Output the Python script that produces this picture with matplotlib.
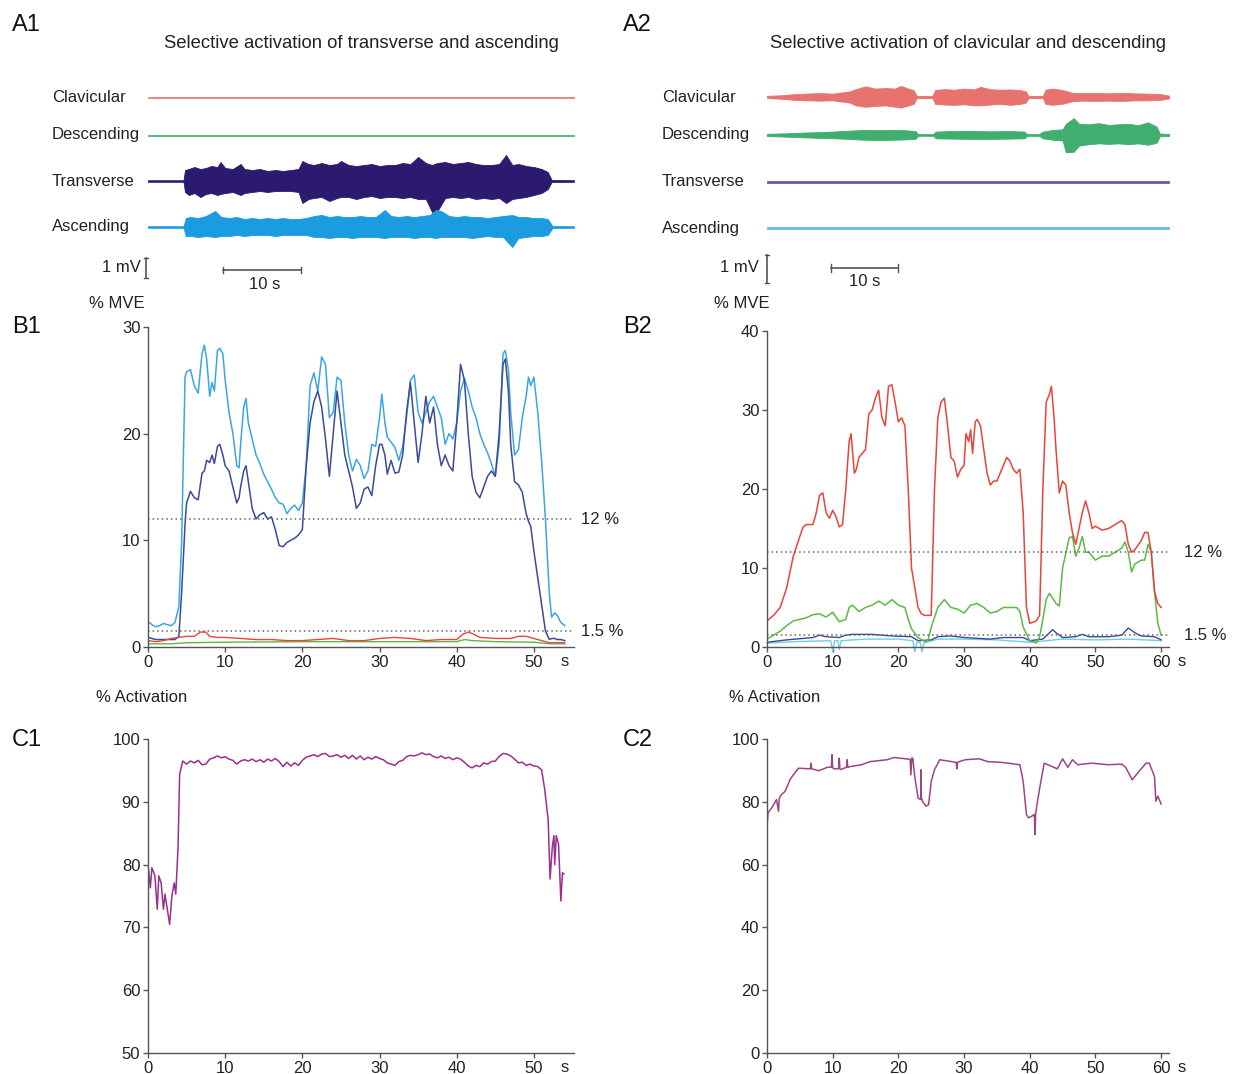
import numpy as np
import matplotlib
matplotlib.use("Agg")
import matplotlib.pyplot as plt
from matplotlib import transforms

plt.rcParams['font.family'] = ['Liberation Sans', 'DejaVu Sans']

W, H = 1233, 1074

# ---------------- A1 : raw EMG envelopes (mV, half amplitude above / below baseline)
a1_tra_t = [0, 4.6, 4.8, 5.3, 6.0, 6.8, 7.5, 8.2, 9.0, 9.4, 10.0, 11.0, 12.0, 12.5, 13.5, 14.5,
            15.5, 16.5, 17.5, 18.5, 19.5, 20.0, 20.8, 21.5, 22.5, 23.5, 24.5, 25.0, 26.0, 27.0,
            28.0, 29.0, 30.0, 31.0, 32.0, 33.0, 34.0, 35.0, 36.0, 36.8, 37.5, 38.5, 39.5, 40.5,
            41.5, 42.5, 43.5, 44.5, 45.5, 46.4, 47.2, 48.0, 49.0, 50.0, 51.0, 51.8, 52.3, 55.2]
a1_tra_up = [0.04, 0.04, 0.55, 0.6, 0.7, 0.6, 0.65, 0.75, 0.7, 0.95, 0.65, 0.6, 0.85, 0.6, 0.55, 0.6,
             0.5, 0.55, 0.5, 0.55, 0.6, 1.0, 0.85, 0.8, 0.9, 0.8, 0.85, 1.0, 0.8, 0.75,
             0.8, 0.85, 0.75, 0.8, 0.8, 0.9, 0.85, 1.2, 0.9, 0.8, 0.9, 0.95, 0.85, 0.9,
             0.95, 0.85, 0.8, 0.8, 0.85, 1.3, 0.8, 0.85, 0.75, 0.7, 0.6, 0.45, 0.05, 0.04]
a1_tra_lo = [0.04, 0.04, 0.55, 0.7, 0.6, 0.8, 0.65, 0.6, 0.7, 0.65, 0.6, 0.55, 0.7, 0.6, 0.55, 0.5,
             0.55, 0.5, 0.5, 0.5, 0.55, 1.1, 0.9, 0.85, 0.8, 1.0, 0.85, 0.8, 0.8, 0.9,
             0.8, 0.75, 0.85, 0.8, 0.8, 0.85, 0.8, 0.9, 0.9, 1.55, 1.5, 0.85, 0.8, 0.85,
             0.8, 0.9, 0.85, 0.9, 0.85, 1.1, 0.9, 0.85, 0.8, 0.7, 0.6, 0.4, 0.05, 0.04]

a1_asc_t = [0, 4.6, 4.9, 5.5, 6.5, 7.5, 8.7, 9.5, 10.5, 11.5, 12.5, 13.5, 14.5, 15.5, 16.5, 17.5,
            18.5, 19.5, 20.5, 21.5, 22.5, 23.5, 24.5, 25.5, 26.5, 27.5, 28.5, 29.5, 30.7, 31.5,
            32.5, 33.5, 34.5, 35.5, 36.5, 37.3, 38.0, 39.0, 40.0, 41.0, 42.0, 43.0, 44.0, 45.0,
            46.0, 47.2, 48.0, 49.0, 50.0, 51.0, 51.8, 52.4, 55.2]
a1_asc_up = [0.04, 0.04, 0.45, 0.5, 0.45, 0.55, 0.8, 0.5, 0.45, 0.5, 0.4, 0.45, 0.4, 0.45, 0.4, 0.45,
             0.4, 0.4, 0.45, 0.55, 0.6, 0.5, 0.55, 0.5, 0.5, 0.55, 0.5, 0.5, 0.85, 0.55,
             0.5, 0.55, 0.5, 0.55, 0.6, 0.85, 0.8, 0.55, 0.5, 0.55, 0.5, 0.5, 0.45, 0.5,
             0.55, 0.6, 0.5, 0.5, 0.45, 0.45, 0.4, 0.05, 0.04]
a1_asc_lo = [0.04, 0.04, 0.45, 0.45, 0.5, 0.45, 0.5, 0.45, 0.45, 0.4, 0.45, 0.4, 0.4, 0.4, 0.45, 0.4,
             0.4, 0.4, 0.4, 0.5, 0.5, 0.55, 0.5, 0.5, 0.55, 0.5, 0.5, 0.5, 0.55, 0.5,
             0.5, 0.5, 0.55, 0.5, 0.5, 0.55, 0.5, 0.5, 0.5, 0.5, 0.55, 0.5, 0.45, 0.5,
             0.5, 1.0, 0.55, 0.5, 0.45, 0.45, 0.4, 0.05, 0.04]

a1_quiet_t = [0, 55.2]
a1_quiet_amp = [0.025, 0.025]

# ---------------- A2
a2_cla_t = [0, 2, 4.1, 6, 8, 10, 12.6, 13.5, 15, 16.5, 18, 19.5, 20.4, 21.5, 22.3, 22.8, 25.2, 25.6,
            27, 28.5, 30, 31.5, 32.5, 34, 35.5, 37, 38.5, 39.4, 39.8, 42.0, 42.4, 43.5, 45, 46.5,
            48, 50, 52, 54, 56, 58, 60, 61.2]
a2_cla_up = [0.04, 0.06, 0.1, 0.12, 0.14, 0.12, 0.2, 0.28, 0.38, 0.3, 0.32, 0.3, 0.4, 0.3, 0.25,
             0.04, 0.04, 0.25, 0.28, 0.26, 0.3, 0.27, 0.36, 0.28, 0.26, 0.27, 0.25, 0.2, 0.04,
             0.04, 0.26, 0.3, 0.25, 0.15, 0.14, 0.15, 0.13, 0.15, 0.13, 0.12, 0.1, 0.05]
a2_cla_lo = [0.04, 0.06, 0.1, 0.12, 0.13, 0.12, 0.2, 0.3, 0.35, 0.32, 0.3, 0.35, 0.38, 0.3, 0.25,
             0.04, 0.04, 0.25, 0.27, 0.28, 0.26, 0.3, 0.3, 0.27, 0.25, 0.28, 0.25, 0.2, 0.04,
             0.04, 0.25, 0.28, 0.24, 0.15, 0.13, 0.14, 0.13, 0.14, 0.12, 0.12, 0.1, 0.05]

a2_des_t = [0, 3, 6, 9, 11.4, 13, 15, 17, 19, 21, 22.6, 23, 25.3, 25.7, 28, 31, 34, 37, 39.2, 39.6,
            41.4, 42, 43.5, 45.0, 45.5, 46.7, 47.5, 49, 50.5, 52, 53.5, 55, 56.5, 58, 59.3, 59.8, 61.2]
a2_des_up = [0.04, 0.06, 0.09, 0.11, 0.14, 0.16, 0.18, 0.17, 0.18, 0.17, 0.14, 0.03, 0.03, 0.12,
             0.14, 0.15, 0.13, 0.14, 0.12, 0.03, 0.03, 0.12, 0.18, 0.2, 0.4, 0.6, 0.4, 0.38,
             0.42, 0.36, 0.38, 0.4, 0.35, 0.45, 0.3, 0.05, 0.04]
a2_des_lo = [0.04, 0.06, 0.09, 0.11, 0.13, 0.15, 0.17, 0.18, 0.17, 0.16, 0.14, 0.03, 0.03, 0.12,
             0.13, 0.14, 0.14, 0.13, 0.12, 0.03, 0.03, 0.12, 0.17, 0.2, 0.62, 0.6, 0.38, 0.33,
             0.3, 0.32, 0.3, 0.33, 0.3, 0.35, 0.28, 0.05, 0.04]

a2_quiet_t = [0, 61.2]
a2_quiet_amp = [0.03, 0.03]

# ---------------- B1 : % MVE
b1_t = [0, 0.5, 1, 1.5, 2, 2.5, 3, 3.5, 4, 4.35, 4.8, 5, 5.5, 6, 6.5, 7, 7.3, 7.6, 8, 8.3,
        8.6, 9, 9.3, 9.7, 10, 10.5, 11, 11.5, 11.8, 12, 12.4, 12.7, 13, 13.5, 14, 14.5, 15, 15.5,
        16, 16.5, 17, 17.5, 18, 18.5, 19, 19.5, 20, 20.5, 21, 21.5, 22, 22.5, 23, 23.5, 24, 24.5,
        25, 25.5, 26, 26.5, 27, 27.5, 28, 28.5, 29, 29.5, 30, 30.3, 30.7, 31, 31.5, 32, 32.5, 33,
        33.5, 34, 34.5, 35, 35.5, 36, 36.5, 37, 37.5, 38, 38.5, 39, 39.5, 40, 40.5, 41, 41.5, 42,
        42.5, 43, 43.5, 44, 44.5, 45, 45.5, 46, 46.3, 46.7, 47, 47.5, 48, 48.5, 49, 49.3, 49.6, 50,
        50.5, 51, 51.5, 52, 52.3, 52.7, 53, 53.5, 54]
b1_ascending = [2.4, 2.1, 1.9, 2.0, 2.2, 2.1, 2.0, 2.3, 3.8, 9.7,
                25.3, 25.8, 26.0, 24.5, 23.8, 27.5, 28.3, 27.0, 23.5, 24.8,
                24.0, 27.8, 28.0, 27.5, 25.0, 22.0, 20.0, 17.0, 16.8, 19.0,
                22.5, 23.3, 21.0, 19.5, 18.0, 17.2, 16.2, 15.5, 14.8, 14.0,
                13.5, 13.4, 12.5, 13.0, 13.3, 12.8, 13.5, 17.0, 24.5, 25.7,
                24.0, 27.2, 26.5, 21.5, 22.0, 25.3, 25.0, 21.0, 18.0, 16.5,
                17.6, 17.0, 15.8, 16.5, 19.0, 18.8, 21.5, 23.7, 21.0, 19.7,
                19.2, 18.7, 17.5, 18.8, 21.5, 25.0, 25.5, 22.0, 21.0, 22.0,
                23.0, 23.5, 22.5, 21.5, 19.0, 20.0, 19.5, 21.0, 24.0, 25.2,
                24.0, 22.5, 21.5, 20.0, 19.0, 18.2, 17.2, 16.0, 19.0, 27.5,
                27.8, 26.0, 22.0, 18.0, 18.5, 21.5, 23.5, 25.3, 24.5, 25.3,
                22.0, 17.5, 12.0, 5.0, 2.8, 3.2, 3.0, 2.3, 2.0]
b1_transverse = [0.9, 0.8, 0.7, 0.7, 0.7, 0.7, 0.7, 0.7, 1.0, 5.0,
                 11.5, 13.5, 14.6, 14.0, 13.8, 16.3, 16.5, 17.5, 17.3, 18.0,
                 17.2, 18.8, 19.0, 18.0, 17.0, 16.5, 15.0, 13.5, 14.0, 15.0,
                 16.5, 17.0, 15.5, 13.0, 12.0, 12.4, 12.6, 12.0, 12.2, 11.0,
                 9.5, 9.4, 9.8, 10.0, 10.2, 10.5, 11.0, 17.0, 21.0, 23.0,
                 24.0, 22.5, 19.5, 16.0, 20.0, 24.0, 21.0, 18.0, 16.5, 15.0,
                 13.0, 13.5, 14.8, 15.0, 14.2, 17.0, 19.0, 19.0, 18.0, 16.2,
                 17.5, 16.3, 16.4, 18.0, 22.0, 24.8, 21.0, 17.3, 20.0, 23.5,
                 21.0, 22.5, 19.0, 17.0, 18.0, 17.0, 16.5, 21.0, 26.5, 25.0,
                 20.0, 16.0, 14.5, 14.0, 15.0, 16.0, 16.5, 16.0, 20.0, 26.5,
                 27.0, 24.0, 19.0, 15.5, 15.2, 14.5, 12.5, 11.8, 11.3, 9.0,
                 6.5, 4.0, 1.5, 0.7, 0.8, 0.8, 0.7, 0.7, 0.6]
b1_cla_t = [0, 1, 2, 3, 4, 5, 6, 6.8, 7.5, 8, 9, 10, 12, 14, 16, 18, 20, 22, 24, 26,
            28, 30, 32, 34, 36, 38, 40, 40.8, 41.5, 42.2, 43, 45, 47, 48, 49, 50, 51, 52, 53, 54]
b1_clavicular = [0.6, 0.5, 0.6, 0.8, 0.9, 1.0, 1.0, 1.4, 1.4, 1.0, 0.9, 0.9, 0.8, 0.7, 0.7, 0.6,
                 0.6, 0.7, 0.8, 0.6, 0.6, 0.8, 0.9, 0.8, 0.6, 0.7, 0.7, 1.2, 1.4, 1.2, 0.9, 0.8,
                 0.8, 1.0, 1.0, 0.8, 0.6, 0.4, 0.4, 0.4]
b1_des_t = [0, 3, 5, 10, 20, 30, 40, 41, 42, 45, 50, 52, 54]
b1_descending = [0.3, 0.3, 0.4, 0.45, 0.5, 0.5, 0.5, 0.7, 0.6, 0.5, 0.45, 0.3, 0.3]

# ---------------- B2
b2_cla_t = [0, 1, 2, 3, 4, 5, 5.5, 6, 7, 7.5, 8, 8.5, 9, 9.5, 10, 10.5, 11, 11.5, 12, 12.5,
            12.8, 13.3, 13.6, 14, 15, 15.5, 16, 16.5, 17, 17.5, 18, 18.5, 19, 19.5, 20, 20.5,
            21, 21.5, 22, 23, 23.5, 24, 25, 25.5, 26, 26.5, 27, 27.5, 28, 28.5, 29, 29.5, 30,
            30.3, 30.7, 31, 31.3, 31.7, 32, 32.5, 33, 33.5, 34, 34.5, 35, 36, 36.5, 37, 37.5,
            38, 38.5, 39, 39.5, 40, 41, 41.5, 42, 42.5, 43, 43.3, 43.7, 44, 44.5, 45, 45.5, 46,
            46.5, 47, 47.5, 48, 48.5, 49, 49.5, 50, 51, 52, 53, 54, 54.5, 55, 55.5, 56, 57,
            57.5, 58, 58.5, 59, 59.5, 60]
b2_clavicular = [3.3, 4, 5, 7.5, 11.5, 14, 15.2, 15.5, 15.5, 17, 19.2, 19.5, 17, 16.3, 17.3, 16.5,
                 15.2, 15.5, 20, 26, 27, 22, 22.5, 24, 25, 29.5, 30, 31.5, 32.5, 29, 28, 33, 33.2,
                 31, 28.5, 29, 28, 20, 10, 5, 4.2, 4, 4, 20, 29, 31, 31.5, 28, 24, 23.5, 21.5,
                 22.5, 23, 27, 26, 27.5, 24.5, 28.5, 28.8, 28, 25, 22, 20.5, 21, 21, 23, 24, 23.5,
                 22.5, 22, 22.5, 17, 5, 3, 3.3, 4, 20, 31, 32, 33, 29, 25, 19.5, 21, 20.5, 17,
                 14.5, 13, 15, 17, 18.5, 17, 15, 15.3, 14.8, 15, 15.5, 16, 15.5, 13, 12, 12.3,
                 13.5, 14.5, 14.5, 12, 7, 5.5, 5]
b2_des_t = [0, 1, 2, 3, 4, 5, 6, 7, 8, 9, 10, 11, 12, 12.5, 13, 14, 15, 16, 17, 18,
            19, 20, 21, 21.5, 22, 23, 24, 24.5, 25, 26, 27, 28, 29, 30, 31, 32, 33, 34, 35, 36,
            37, 38, 38.5, 39, 40, 41, 41.5, 42, 42.5, 43, 44, 44.5, 45, 46, 46.5, 47, 47.5, 48,
            48.5, 49, 50, 51, 52, 53, 54, 54.5, 55, 55.5, 56, 57, 57.5, 58, 58.5, 59, 59.5, 60]
b2_descending = [1, 1.5, 2, 2.7, 3.3, 3.5, 3.7, 4.1, 4.2, 3.8, 4.4, 3.2, 3.5, 5, 5.3, 4.5, 5,
                 5.3, 5.8, 5.3, 6, 5.3, 5, 3.5, 2.3, 1.2, 0.7, 0.8, 2.5, 5, 6, 5, 4.8, 4.3, 5.3,
                 5.5, 5, 4.3, 4.5, 5, 5, 5, 4.5, 2.5, 0.8, 0.5, 1.3, 3.5, 6, 6.8, 5.5, 5.2, 10,
                 13.8, 14, 11.5, 12.5, 14, 12, 12, 11, 11.5, 11.5, 12, 12.5, 13.3, 12, 9.5, 10.5,
                 11, 11, 13, 12, 7, 3, 1.5]
b2_tra_t = [0, 3, 7, 8, 9, 11, 12, 13, 16, 19, 22, 23, 25, 26, 28, 30, 34, 36, 39, 40,
            42, 43, 43.5, 44, 45, 47, 48, 49, 52, 54, 55, 56, 57, 59, 60]
b2_transverse = [0.6, 0.9, 1.2, 1.5, 1.3, 1.2, 1.5, 1.6, 1.6, 1.4, 1.3, 0.8, 0.9, 1.3, 1.4, 1.2,
                 1.0, 1.2, 1.2, 0.8, 1.0, 1.8, 2.2, 1.8, 1.2, 1.3, 1.6, 1.3, 1.3, 1.5, 2.4, 1.8,
                 1.4, 1.3, 0.9]
b2_asc_t = [0, 5, 9.7, 10, 10.3, 10.8, 11, 11.3, 15, 20, 22.2, 22.5, 22.8, 23.3, 23.6, 23.9,
            26, 30, 35, 40, 45, 50, 55, 60]
b2_ascending = [0.5, 0.7, 0.8, -0.5, 0.8, 0.8, -0.3, 0.8, 1.0, 1.0, 0.8, -0.6, 0.6, 0.6, -0.6,
                0.5, 1.0, 1.0, 0.9, 0.6, 1.0, 0.9, 1.0, 0.8]

# ---------------- C1 / C2 : % activation
c1_t = ([0, 0.3, 0.5, 0.9, 1.2, 1.4, 1.7, 2.0, 2.2, 2.5, 2.8, 3.1, 3.4, 3.6, 3.9, 4.1, 4.5]
        + list(np.arange(5, 51.1, 0.5))
        + [51.4, 51.85, 52.1, 52.4, 52.6, 52.7, 52.9, 53.2, 53.5, 53.7, 53.9])
c1_act = [80, 76.3, 79.5, 78.2, 72.9, 78.2, 77.1, 72.9, 75.3, 72.9, 70.5, 75, 77.1, 75.3, 83, 94.4, 96.5,
          96.0, 96.5, 96.2, 96.6, 95.9, 96.0, 96.8, 97.0, 97.3, 97.0,
          97.2, 96.8, 96.6, 96.0, 96.5, 96.7, 96.5, 96.8, 96.4, 96.7,
          96.3, 96.8, 96.5, 96.9, 96.4, 95.6, 96.3, 95.7, 96.2, 95.8,
          96.6, 97.1, 97.3, 97.5, 97.2, 97.6, 97.7, 97.2, 97.3, 97.5,
          97.1, 97.4, 96.9, 97.4, 96.8, 97.3, 96.7, 97.1, 96.8, 97.2,
          96.9, 96.7, 96.2, 96.0, 95.8, 96.4, 96.6, 97.2, 97.4, 97.3,
          97.5, 97.8, 97.5, 97.6, 97.2, 97.0, 97.3, 96.9, 97.1, 96.7,
          97.0, 96.8, 96.3, 95.7, 95.4, 95.8, 95.6, 96.2, 96.0, 96.4,
          96.5, 97.2, 97.7, 97.6, 97.3, 96.8, 96.2, 96.3, 95.8, 96.0,
          95.7, 95.6, 95.1,
          92, 87.2, 77.7, 83, 84.6, 80, 84.6, 83.2, 74.2, 78.7, 78.5]

c2_t = [0, 0.15, 0.7, 1.45, 1.75, 1.85, 2.2, 2.75, 3.5, 3.8, 4.8, 6.6, 6.7, 6.8, 7.9, 9.2, 9.8,
        9.9, 10.0, 10.3, 10.9, 11.0, 11.1, 11.3, 12.1, 12.2, 12.3, 12.6, 14.4, 15.7, 18.3, 19.3,
        21.1, 21.8, 21.9, 22.05, 22.2, 22.5, 23.0, 23.4, 23.45, 23.5, 23.6, 23.7, 24.2, 24.6,
        25.0, 25.5, 26.3, 28.1, 28.8, 28.9, 29.0, 30.2, 32.3, 33.6, 35.4, 36.7, 38.5, 39.0, 39.5,
        39.8, 40.3, 40.7, 40.8, 40.9, 41.1, 41.6, 42.2, 44.2, 45.0, 45.8, 46.5, 47.3, 49.4, 52.0,
        54.0, 54.6, 55.6, 56.4, 57.7, 58.2, 59.0, 59.2, 59.5, 60.0]
c2_act = [71.7, 76.5, 78, 80.7, 77, 81, 82.3, 83.3, 87, 88, 90.7, 90.5, 92.3, 90.5, 89.9, 91, 91,
          95, 90.8, 90.5, 90.5, 93.9, 90.5, 90.3, 91, 93.4, 91, 91.2, 91.8, 92.8, 93.4, 94.1,
          93.7, 93.5, 88.6, 94, 93.8, 88, 81.2, 80.7, 90.2, 81, 80.8, 80, 78.6, 79.1,
          86.5, 90.2, 93.4, 92.8, 92.5, 90.5, 92.6, 93.4, 93.7, 92.8, 92.6, 92.3, 91.8, 86.5, 76,
          74.9, 75.4, 76, 69.6, 76, 79.1, 85.4, 92.3, 90.5, 93.7, 91, 93.4, 91.8, 92.3, 91.8,
          92, 91, 87, 89.1, 92.3, 92.3, 88, 80.2, 81.8, 79.3]

channels = ["Clavicular", "Descending", "Transverse", "Ascending"]

# colours
RED, GREEN, NAVY, BLUE, CYAN = "#e8443a", "#5cb946", "#3c4a98", "#3aa6e2", "#6fcfdc"
RED_A, GREEN_A, NAVY_A, BLUE_A = "#e8736e", "#3fae6e", "#2b1a6e", "#1b9ce0"
GREY = "#555555"
FS = 12

fig = plt.figure(figsize=(W / 100, H / 100), dpi=100)


def add_ax(left, top, right, bottom):
    return fig.add_axes([left / W, 1 - bottom / H, (right - left) / W, (bottom - top) / H])


def ftext(x, y, s, **kw):
    kw.setdefault("fontsize", FS)
    kw.setdefault("color", "#222222")
    fig.text(x / W, 1 - y / H, s, **kw)


def style(ax, xmax, ylim, yticks, xticks):
    ax.set_xlim(0, xmax)
    ax.set_ylim(*ylim)
    for side in ("top", "right"):
        ax.spines[side].set_visible(False)
    for side in ("left", "bottom"):
        ax.spines[side].set_color(GREY)
        ax.spines[side].set_linewidth(1.0)
    ax.set_xticks(xticks)
    ax.set_yticks(yticks)
    ax.tick_params(direction="out", length=3.5, width=1, color=GREY,
                   labelsize=FS, labelcolor="#222222", pad=2)
    ax.patch.set_alpha(0)


def emg(ax, t, up, lo, base, color, lw=0.6):
    t = np.asarray(t)
    ax.fill_between(t, base + np.asarray(up), base - np.asarray(lo),
                    color=color, lw=lw, edgecolor=color)


# ---------------- A panels
axA1 = add_ax(148, 70, 574, 290)
axA1.set_xlim(0, 55.2)
axA1.set_ylim(-11, 0)
axA1.axis("off")
offs1 = [-1.35, -3.25, -5.55, -7.85]
emg(axA1, a1_quiet_t, a1_quiet_amp, a1_quiet_amp, offs1[0], RED_A, 0.5)
emg(axA1, a1_quiet_t, a1_quiet_amp, a1_quiet_amp, offs1[1], GREEN_A, 0.5)
emg(axA1, a1_tra_t, a1_tra_up, a1_tra_lo, offs1[2], NAVY_A)
emg(axA1, a1_asc_t, a1_asc_up, a1_asc_lo, offs1[3], BLUE_A)
# scale bars
axA1.plot([-0.26, -0.26], [-9.4, -10.4], color=GREY, lw=1.2, clip_on=False)
axA1.plot([-0.5, 0.0], [-9.4, -9.4], color=GREY, lw=1, clip_on=False)
axA1.plot([-0.5, 0.0], [-10.4, -10.4], color=GREY, lw=1, clip_on=False)
axA1.plot([9.7, 19.8], [-10.0, -10.0], color=GREY, lw=1.2)
axA1.plot([9.7, 9.7], [-9.85, -10.15], color=GREY, lw=1)
axA1.plot([19.8, 19.8], [-9.85, -10.15], color=GREY, lw=1)

axA2 = add_ax(767, 70, 1169, 290)
axA2.set_xlim(0, 61.2)
axA2.set_ylim(-220 / 28, 0)
axA2.axis("off")
offs2 = [-0.964, -2.32, -4.0, -5.64]
emg(axA2, a2_cla_t, a2_cla_up, a2_cla_lo, offs2[0], RED_A)
emg(axA2, a2_des_t, a2_des_up, a2_des_lo, offs2[1], GREEN_A)
emg(axA2, a2_quiet_t, a2_quiet_amp, a2_quiet_amp, offs2[2], "#5a5aa8", 0.5)
emg(axA2, a2_quiet_t, a2_quiet_amp, a2_quiet_amp, offs2[3], "#5ab9e8", 0.5)
axA2.plot([0, 0], [-6.61, -7.61], color=GREY, lw=1.2, clip_on=False)
axA2.plot([-0.3, 0.3], [-6.61, -6.61], color=GREY, lw=1, clip_on=False)
axA2.plot([-0.3, 0.3], [-7.61, -7.61], color=GREY, lw=1, clip_on=False)
axA2.plot([9.74, 19.94], [-7.07, -7.07], color=GREY, lw=1.2)
axA2.plot([9.74, 9.74], [-6.93, -7.21], color=GREY, lw=1)
axA2.plot([19.94, 19.94], [-6.93, -7.21], color=GREY, lw=1)

for name, y in zip(channels, [97, 135, 181, 227]):
    ftext(52, y, name, va="center", ha="left")
for name, y in zip(channels, [97, 135, 182, 228]):
    ftext(662, y, name, va="center", ha="left")
ftext(141, 267, "1 mV", ha="right", va="center")
ftext(265, 284, "10 s", ha="center", va="center")
ftext(759, 268, "1 mV", ha="right", va="center")
ftext(865, 281, "10 s", ha="center", va="center")

ftext(361, 43, "Selective activation of transverse and ascending", ha="center", va="center", fontsize=13.3)
ftext(968, 43, "Selective activation of clavicular and descending", ha="center", va="center", fontsize=13.3)

# ---------------- B panels
axB1 = add_ax(148, 327, 574, 647)
style(axB1, 55.2, (0, 30), [0, 10, 20, 30], [0, 10, 20, 30, 40, 50])
axB1.plot(b1_t, b1_ascending, color=BLUE, lw=1.1)
axB1.plot(b1_t, b1_transverse, color=NAVY, lw=1.1)
axB1.plot(b1_des_t, b1_descending, color=GREEN, lw=1.0)
axB1.plot(b1_cla_t, b1_clavicular, color=RED, lw=1.0)

axB2 = add_ax(767, 331, 1169, 647)
style(axB2, 61.2, (0, 40), [0, 10, 20, 30, 40], [0, 10, 20, 30, 40, 50, 60])
axB2.plot(b2_asc_t, b2_ascending, color=CYAN, lw=1.0, clip_on=False)
axB2.plot(b2_tra_t, b2_transverse, color=NAVY, lw=1.0)
axB2.plot(b2_des_t, b2_descending, color=GREEN, lw=1.1)
axB2.plot(b2_cla_t, b2_clavicular, color=RED, lw=1.1)

for ax, xlab in ((axB1, 1.016), (axB2, 1.037)):
    tr = transforms.blended_transform_factory(ax.transAxes, ax.transData)
    for lvl, lab in ((12, "12 %"), (1.5, "1.5 %")):
        ax.axhline(lvl, color="#666666", lw=1.1, ls=(0, (1, 2)))
        ax.text(xlab, lvl, lab, transform=tr, va="center", ha="left",
                fontsize=FS, color="#222222")

# ---------------- C panels
axC1 = add_ax(148, 739, 574, 1053)
style(axC1, 55.2, (50, 100), [50, 60, 70, 80, 90, 100], [0, 10, 20, 30, 40, 50])
axC1.plot(c1_t, c1_act, color="#9b2f8f", lw=1.1)

axC2 = add_ax(767, 739, 1169, 1053)
style(axC2, 61.2, (0, 100), [0, 20, 40, 60, 80, 100], [0, 10, 20, 30, 40, 50, 60])
axC2.plot(c2_t, c2_act, color="#9c4585", lw=1.1)

# axis captions
ftext(565, 662, "s", ha="center", va="center")
ftext(1182, 662, "s", ha="center", va="center")
ftext(565, 1068, "s", ha="center", va="center")
ftext(1182, 1068, "s", ha="center", va="center")
ftext(117, 303, "% MVE", ha="center", va="center")
ftext(742, 303, "% MVE", ha="center", va="center")
ftext(142, 697, "% Activation", ha="center", va="center")
ftext(775, 697, "% Activation", ha="center", va="center")

# panel letters
for lab, x, y in (("A1", 12, 25), ("A2", 623, 25), ("B1", 12, 327),
                  ("B2", 623, 327), ("C1", 12, 740), ("C2", 623, 740)):
    ftext(x, y, lab, ha="left", va="center", fontsize=17, color="#111111")

fig.savefig("out.png", dpi=100)
